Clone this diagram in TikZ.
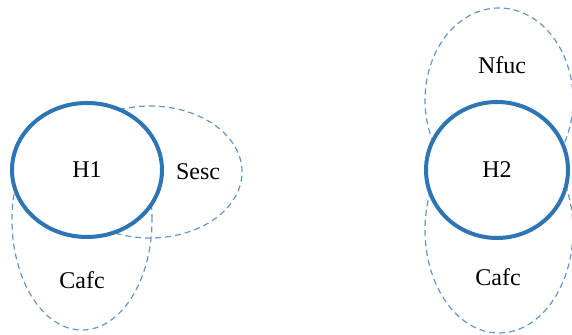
\documentclass[tikz,border=0pt]{standalone}
\usepackage{fontspec}
\setmainfont{Liberation Serif}
\usetikzlibrary{shapes.geometric}

\definecolor{hubblue}{RGB}{46,117,182}
\definecolor{ringblue}{RGB}{100,150,205}

\begin{document}
\begin{tikzpicture}[
  x=0.5pt, y=-0.5pt,
  font=\fontsize{12}{14}\selectfont,
  hub/.style={ellipse, draw=hubblue, line width=2pt, fill=white, inner sep=0pt},
  ring/.style={ellipse, draw=ringblue, line width=0.6pt, dash pattern=on 3pt off 2pt, inner sep=0pt},
  tag/.style={inner sep=1pt},
]
\useasboundingbox (0,0) rectangle (572,335);

% --- Left group: H1 with its two dashed regions ---
\begin{scope}
  % dashed regions go first so the hub covers their inner parts
  \node[ring, minimum width=92pt, minimum height=66pt] (sesc) at (150,172) {};
  \node[ring, minimum width=70pt, minimum height=110pt] (cafcA) at (82,220) {};

  \node[hub, minimum width=75pt, minimum height=67pt] (h1) at (87,170) {H1};

  \node[tag] (sescTxt) at (198,172) {Sesc};
  \node[tag] (cafcAtxt) at (82,280) {Cafc};
\end{scope}

% --- Right group: H2 between an upper and a lower region ---
\begin{scope}
  \node[ring, minimum width=74pt, minimum height=92pt] (nfuc) at (499,100) {};
  \node[ring, minimum width=74pt, minimum height=103pt] (cafcB) at (499,230) {};

  \node[hub, minimum width=71pt, minimum height=68pt] (h2) at (497,170) {H2};

  \node[tag] (nfucTxt) at (502,65) {Nfuc};
  \node[tag] (cafcBtxt) at (498,277) {Cafc};
\end{scope}

\end{tikzpicture}
\end{document}
